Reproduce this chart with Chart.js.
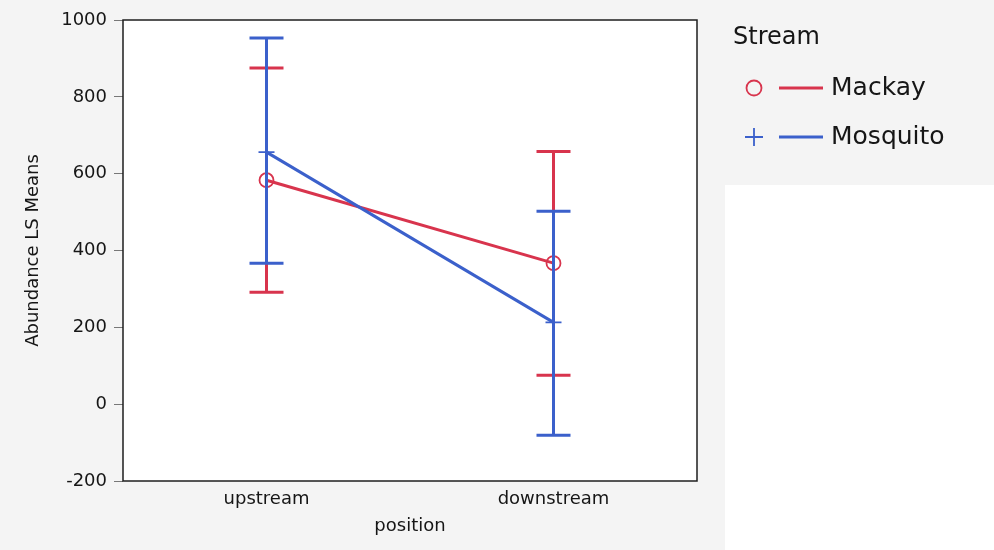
<!DOCTYPE html>
<html>
<head>
<meta charset="utf-8">
<script src="https://cdn.jsdelivr.net/npm/chart.js@4.4.1/dist/chart.umd.min.js"></script>
<style>
html, body { margin: 0; padding: 0; background: #fff; }
#wrap { width: 994px; height: 550px; position: relative; }
</style>
</head>
<body>
<div id="wrap"><canvas id="lsChart"></canvas></div>
<script>
// data
var positions = ["upstream", "downstream"];
var streams = ["Mackay", "Mosquito"];
var mackayMeans = [583, 367];
var mackayUpper = [875, 658];
var mackayLower = [291, 75];
var mosquitoMeans = [656, 213];
var mosquitoUpper = [953, 502];
var mosquitoLower = [367, -81];
var yTicks = [-200, 0, 200, 400, 600, 800, 1000];

var RED = "#d8344d";
var BLUE = "#3b60cb";
var TEXT = "#161616";
var FONT = "'DejaVu Sans', sans-serif";

// gray page behind plot + legend box, white plot area
var backgroundPlugin = {
	id: "backgrounds",
	beforeDraw: function (chart) {
		var ctx = chart.ctx, a = chart.chartArea;
		ctx.save();
		ctx.fillStyle = "#ffffff";
		ctx.fillRect(0, 0, chart.width, chart.height);
		ctx.fillStyle = "#f4f4f4";
		ctx.fillRect(0, 0, a.right + 28, chart.height);
		ctx.fillRect(a.right + 28, 0, chart.width - a.right - 28, 185);
		ctx.fillStyle = "#ffffff";
		ctx.fillRect(a.left, a.top, a.right - a.left, a.bottom - a.top);
		ctx.restore();
	}
};

// vertical error bars with caps, drawn through the y scale
var errorBarPlugin = {
	id: "errorBars",
	afterDatasetsDraw: function (chart) {
		var ctx = chart.ctx;
		var yScale = chart.scales.y;
		var order = [0, 1];
		ctx.save();
		for (var k in order) {
			var ds = chart.data.datasets[order[k]];
			var meta = chart.getDatasetMeta(order[k]);
			ctx.strokeStyle = ds.borderColor;
			ctx.lineWidth = 3;
			for (var i in meta.data) {
				var x = meta.data[i].x;
				var yHi = yScale.getPixelForValue(ds.errHigh[i]);
				var yLo = yScale.getPixelForValue(ds.errLow[i]);
				ctx.beginPath();
				ctx.moveTo(x, yHi);
				ctx.lineTo(x, yLo);
				ctx.moveTo(x - 17, yHi);
				ctx.lineTo(x + 17, yHi);
				ctx.moveTo(x - 17, yLo);
				ctx.lineTo(x + 17, yLo);
				ctx.stroke();
			}
		}
		ctx.restore();
	}
};

// frame round the plot and the legend on the right
var frameLegendPlugin = {
	id: "frameLegend",
	afterDraw: function (chart) {
		var ctx = chart.ctx, a = chart.chartArea;
		ctx.save();
		ctx.strokeStyle = "#1e1e1e";
		ctx.lineWidth = 1.5;
		ctx.strokeRect(a.left, a.top, a.right - a.left, a.bottom - a.top);

		ctx.fillStyle = TEXT;
		ctx.textBaseline = "middle";
		ctx.textAlign = "left";
		ctx.font = "24px " + FONT;
		ctx.fillText("Stream", 733, 38);

		ctx.font = "25px " + FONT;
		var rows = [88, 137];
		for (var i in chart.data.datasets) {
			var ds = chart.data.datasets[i];
			var y = rows[i];
			ctx.strokeStyle = ds.borderColor;
			ctx.lineWidth = 1.8;
			ctx.beginPath();
			if (ds.pointStyle === "circle") {
				ctx.arc(754, y, 7.5, 0, Math.PI * 2);
			} else {
				ctx.moveTo(745, y);
				ctx.lineTo(763, y);
				ctx.moveTo(754, y - 9);
				ctx.lineTo(754, y + 9);
			}
			ctx.stroke();
			ctx.lineWidth = 3;
			ctx.beginPath();
			ctx.moveTo(779, y);
			ctx.lineTo(823, y);
			ctx.stroke();
			ctx.fillText(ds.label, 831, y);
		}
		ctx.restore();
	}
};

var ctx = document.getElementById("lsChart").getContext("2d");
new Chart(ctx, {
	type: "line",
	data: {
		labels: positions,
		datasets: [
			{
				label: streams[0],
				data: mackayMeans,
				errHigh: mackayUpper,
				errLow: mackayLower,
				borderColor: RED,
				borderWidth: 3,
				pointStyle: "circle",
				pointRadius: 7,
				pointBorderWidth: 1.8,
				pointBorderColor: RED,
				pointBackgroundColor: "rgba(0,0,0,0)",
				tension: 0,
				fill: false,
				order: 1
			},
			{
				label: streams[1],
				data: mosquitoMeans,
				errHigh: mosquitoUpper,
				errLow: mosquitoLower,
				borderColor: BLUE,
				borderWidth: 3,
				pointStyle: "cross",
				pointRadius: 8,
				pointBorderWidth: 1.8,
				pointBorderColor: BLUE,
				pointBackgroundColor: BLUE,
				tension: 0,
				fill: false,
				order: 0
			}
		]
	},
	options: {
		responsive: true,
		maintainAspectRatio: false,
		animation: false,
		events: [],
		layout: { padding: { top: 20, right: 297, left: 0, bottom: 0 } },
		plugins: {
			legend: { display: false },
			tooltip: { enabled: false }
		},
		scales: {
			x: {
				type: "category",
				offset: true,
				grid: { display: false },
				border: { display: false },
				ticks: {
					color: TEXT,
					font: { family: FONT, size: 18 },
					padding: 0
				},
				title: {
					display: true,
					text: "position",
					color: TEXT,
					font: { family: FONT, size: 18 },
					padding: { top: 0, bottom: 13 }
				},
				afterFit: function (scale) { scale.height = 69; }
			},
			y: {
				min: -200,
				max: 1000,
				afterBuildTicks: function (scale) {
					scale.ticks = yTicks.map(function (v) { return { value: v }; });
				},
				grid: {
					drawOnChartArea: false,
					drawTicks: true,
					tickLength: 9,
					color: "#777",
					lineWidth: 1
				},
				border: { display: false },
				ticks: {
					color: TEXT,
					font: { family: FONT, size: 18 },
					padding: 7,
					callback: function (value) { return String(value); }
				},
				title: {
					display: true,
					text: "Abundance LS Means",
					color: TEXT,
					font: { family: FONT, size: 18 },
					padding: { top: 23, bottom: 0 }
				},
				afterFit: function (scale) { scale.width = 123; }
			}
		}
	},
	plugins: [backgroundPlugin, errorBarPlugin, frameLegendPlugin]
});
</script>
</body>
</html>
